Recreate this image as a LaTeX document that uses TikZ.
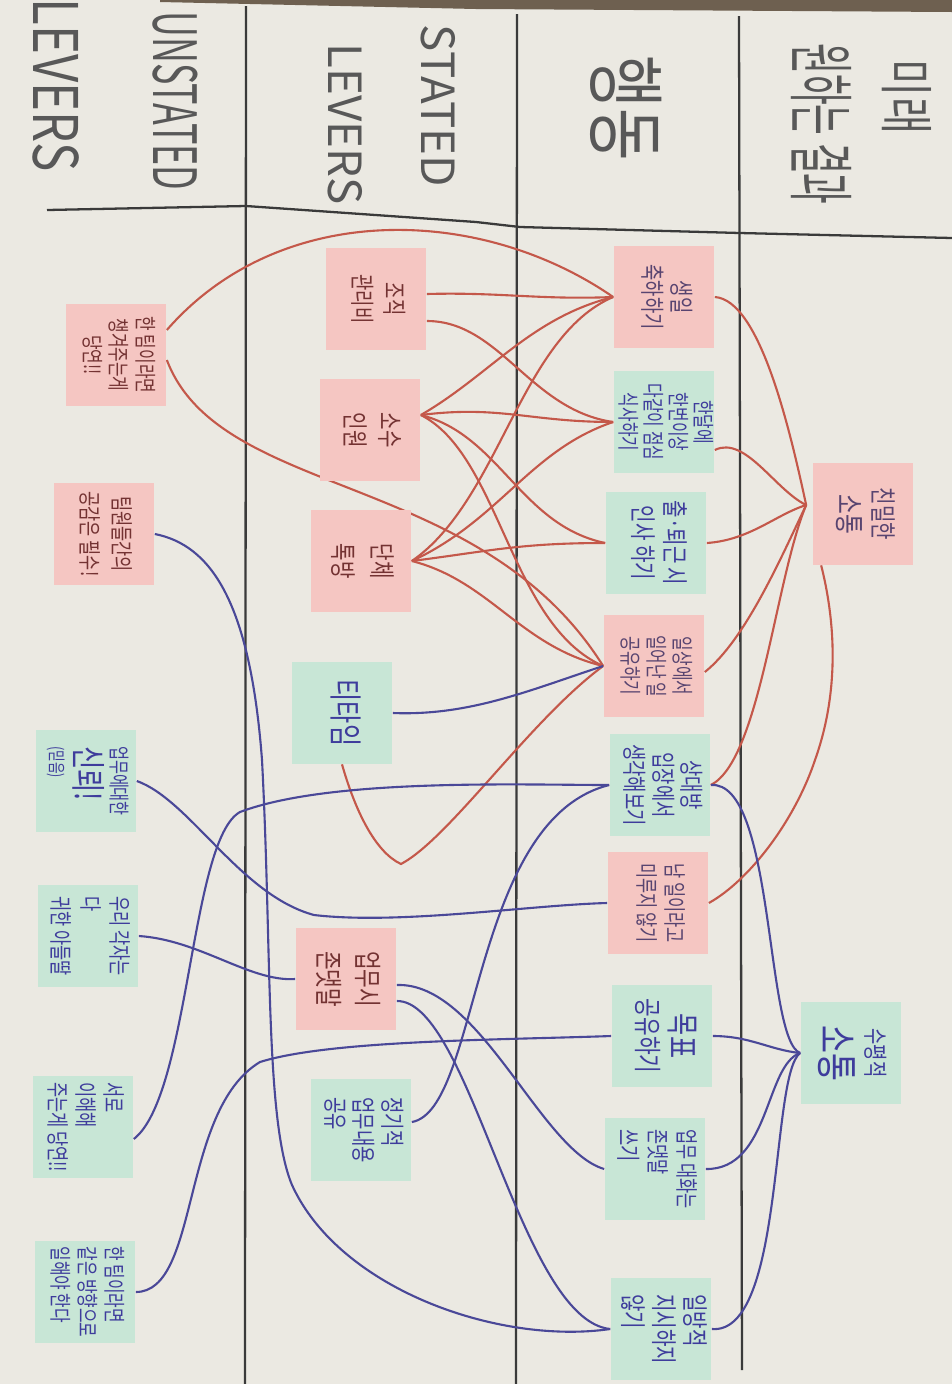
\documentclass[tikz,border=0pt]{standalone}
\usepackage{fontspec}
\usepackage{graphicx}
\setmainfont{Noto Sans CJK KR}
\usetikzlibrary{calc}
\definecolor{paper}{RGB}{235,233,226}
\definecolor{pinknote}{RGB}{245,198,194}
\definecolor{greennote}{RGB}{200,230,214}
\definecolor{redink}{RGB}{196,88,74}
\definecolor{blueink}{RGB}{74,72,152}
\definecolor{blackink}{RGB}{58,58,58}
\definecolor{hdrink}{RGB}{88,88,88}
\definecolor{txtblue}{RGB}{62,60,156}
\definecolor{txtred}{RGB}{115,50,50}
\definecolor{txtpurple}{RGB}{88,68,112}
\definecolor{floorcol}{RGB}{110,96,80}
\newcommand{\nt}[4][c]{\scalebox{0.72}[1]{\fontsize{#2}{#3}\selectfont\begin{tabular}{@{}#1@{}}#4\end{tabular}}}
\newcommand{\fs}[1]{\fontsize{#1}{#1}\selectfont}
\pgfdeclarelayer{bg}
\pgfdeclarelayer{lines}
\pgfsetlayers{bg,lines,main}
\begin{document}
\begin{tikzpicture}[x=0.02cm,y=-0.02cm,
  note/.style={minimum width=2.02cm,minimum height=2.04cm,inner sep=0pt,draw=none},
  pnote/.style={note,fill=pinknote},
  gnote/.style={note,fill=greennote},
  ntxt/.style={rotate=-90,inner sep=0pt},
  hdr/.style={rotate=-90,inner sep=0pt,text=hdrink},
  rl/.style={draw=redink,line width=1.2pt},
  bl/.style={draw=blueink,line width=1.2pt},
  frame/.style={draw=blackink,line width=1.3pt}]
\useasboundingbox (0,0) rectangle (952,1384);
\begin{pgfonlayer}{bg}
\fill[paper] (0,0) rectangle (952,1384);
\fill[floorcol] (160,0) -- (952,0) -- (952,12) -- (476,9) -- (160,2) -- cycle;
\draw[frame] (246,6) -- (245,1384);
\draw[frame] (517,14) -- (516,1384);
\draw[frame] (739,16) -- (742,1370);
\draw[frame] (47,210) -- (246,206) -- (476,222) -- (520,227) -- (740,233) -- (952,238);
\end{pgfonlayer}

% headers
\node[hdr] (hlev1) at (56,85) {\scalebox{0.8}[1]{\fs{35}LEVERS}};
\node[hdr] (hunst) at (175,101) {\scalebox{0.6}[1]{\fs{34}UNSTATED}};
\node[hdr] (hstat) at (438,106) {\scalebox{1.0}[1]{\fs{26}STATED}};
\node[hdr] (hlev2) at (345,124) {\scalebox{1.0}[1]{\fs{26}LEVERS}};
\node[hdr] (hbeh) at (626,108) {\scalebox{0.72}[1]{\fs{45}행동}};
\node[hdr] (hfut) at (907,97) {\scalebox{0.74}[1]{\fs{31}미래}};
\node[hdr] (hres) at (821,124) {\scalebox{0.5}[1]{\fs{38}원하는 결과}};

% behaviour column
\node[pnote] (b1) at (664,297) {};
\node[ntxt,text=txtpurple] (b1t) at (b1) {\nt{14}{16}{생일\\축하하기}};
\node[gnote] (b2) at (664,422) {};
\node[ntxt,text=txtblue] (b2t) at (b2) {\nt{12.5}{13}{한달에\\한번이상\\다같이 점심\\식사하기}};
\node[gnote] (b3) at (656,543) {};
\node[ntxt,text=txtblue] (b3t) at (b3) {\nt{15}{18}{출·퇴근 시\\인사 하기}};
\node[pnote] (b4) at (654,666) {};
\node[ntxt,text=txtpurple] (b4t) at (b4) {\nt{12.5}{14.5}{일상에서\\일어난 일\\공유하기}};
\node[gnote] (b5) at (660,785) {};
\node[ntxt,text=txtblue] (b5t) at (b5) {\nt{14}{16}{상대방\\입장에서\\생각해보기}};
\node[pnote] (b6) at (658,903) {};
\node[ntxt,text=txtpurple] (b6t) at (b6) {\nt{13}{16}{남 일이라고\\미루지 않기}};
\node[gnote] (b7) at (662,1036) {};
\node[ntxt,text=txtblue] (b7t) at (b7) {\nt{16}{19}{{\fs{19}목표}\\공유하기}};
\node[gnote] (b8) at (655,1169) {};
\node[ntxt,text=txtblue] (b8t) at (b8) {\nt[l]{13}{17}{업무 대화는\\존댓말\\{\fs{14}쓰기}}};
\node[gnote] (b9) at (661,1329) {};
\node[ntxt,text=txtblue] (b9t) at (b9) {\nt[l]{15}{17}{일방적\\지시하지\\않기}};

% results
\node[pnote] (r1) at (863,514) {};
\node[ntxt,text=txtpurple] (r1t) at (r1) {\nt{15}{20}{친밀한\\{\fs{17}소통}}};
\node[gnote] (r2) at (851,1053) {};
\node[ntxt,text=txtblue] (r2t) at (r2) {\nt{14}{20}{수평적\\{\fs{24}소통}}};

% stated levers
\node[pnote] (s1) at (376,299) {};
\node[ntxt,text=txtred] (s1t) at (s1) {\nt{14}{18}{조직\\관리비}};
\node[pnote] (s2) at (370,430) {};
\node[ntxt,text=txtred] (s2t) at (s2) {\nt{15}{20}{소수\\인원}};
\node[pnote] (s3) at (361,561) {};
\node[ntxt,text=txtred] (s3t) at (s3) {\nt{15}{22}{단체\\톡방}};
\node[gnote] (s4) at (342,713) {};
\node[ntxt,text=txtblue] (s4t) at (s4) {\nt{19}{21}{티타임}};
\node[pnote] (s5) at (346,979) {};
\node[ntxt,text=txtred] (s5t) at (s5) {\nt{16}{22}{업무시\\존댓말}};
\node[gnote] (s6) at (361,1130) {};
\node[ntxt,text=txtblue] (s6t) at (s6) {\nt[l]{14}{16}{정기적\\업무내용\\공유}};

% unstated levers
\node[pnote] (u1) at (116,355) {};
\node[ntxt,text=txtred] (u1t) at (u1) {\nt{12.5}{15}{한 팀이라면\\챙겨주는게\\당연!!}};
\node[pnote] (u2) at (104,534) {};
\node[ntxt,text=txtred] (u2t) at (u2) {\nt{13}{18}{팀원들간의\\공감은 필수!}};
\node[gnote] (u3) at (86,781) {};
\node[ntxt,text=txtblue] (u3t) at (u3) {\nt[l]{12}{14}{업무에대한\\{\fs{20}신뢰!}\\{\fs{10}(믿음)}}};
\node[gnote] (u4) at (88,936) {};
\node[ntxt,text=txtblue] (u4t) at (u4) {\nt[l]{13}{17}{우리 각자는\\다\\귀한 아들딸}};
\node[gnote] (u5) at (83,1127) {};
\node[ntxt,text=txtblue] (u5t) at (u5) {\nt[l]{13}{16}{서로\\이해해\\주는게 당연!!}};
\node[gnote] (u6) at (85,1292) {};
\node[ntxt,text=txtblue] (u6t) at (u6) {\nt[l]{12.5}{15.5}{한 팀이라면\\같은 방향으로\\일해야 한다}};

\begin{pgfonlayer}{lines}
% red connectors
\draw[rl] ($(u1.east)+(0,-25)$) .. controls (280,200) and (480,205) .. (b1.west);
\draw[rl] ($(u1.east)+(0,5)$) .. controls (220,500) and (480,470) .. (b4.west);
\draw[rl] ($(s1.east)+(0,-5)$) .. controls (500,292) and (540,300) .. (b1.west);
\draw[rl] ($(s1.east)+(0,22)$) .. controls (500,321) and (530,410) .. (b2.west);
\coordinate (s2r) at ($(s2.east)+(0,-15)$);
\draw[rl] (s2r) .. controls (490,375) and (530,318) .. (b1.west);
\draw[rl] (s2r) .. controls (500,405) and (530,422) .. (b2.west);
\draw[rl] (s2r) .. controls (500,435) and (520,525) .. (b3.west);
\draw[rl] (s2r) .. controls (500,455) and (510,625) .. (b4.west);
\draw[rl] (s3.east) .. controls (500,500) and (520,337) .. (b1.west);
\draw[rl] (s3.east) .. controls (500,520) and (530,450) .. (b2.west);
\draw[rl] (s3.east) .. controls (490,551) and (520,543) .. (b3.west);
\draw[rl] (s3.east) .. controls (490,581) and (520,646) .. (b4.west);
\draw[rl] (s4.south) .. controls (355,810) and (375,852) .. (401,864) .. controls (450,838) and (530,720) .. (b4.west);
\coordinate (r1l) at ($(r1.west)+(-6,-9)$);
\draw[rl] (b1.east) .. controls (760,300) and (790,430) .. (r1l);
\draw[rl] ($(b2.east)+(0,28)$) .. controls (745,435) and (775,490) .. (r1l);
\draw[rl] (b3.east) .. controls (750,540) and (775,515) .. (r1l);
\draw[rl] ($(b4.east)+(0,6)$) .. controls (745,640) and (780,560) .. (r1l);
\draw[rl] (b5.east) .. controls (760,760) and (775,580) .. (r1l);
\draw[rl] (b6.east) .. controls (750,880) and (795,820) .. (815,760) .. controls (840,690) and (835,620) .. ($(r1.south west)+(9,0)$);
% blue connectors
\draw[bl] (s4.east) .. controls (470,716) and (530,690) .. (b4.west);
\draw[bl] (u2.east) .. controls (210,545) and (250,600) .. (262,760) .. controls (272,950) and (265,1120) .. (292,1185) .. controls (340,1290) and (500,1345) .. (b9.west);
\draw[bl] (u3.east) .. controls (190,800) and (240,895) .. (314,915) .. controls (400,925) and (530,905) .. (b6.west);
\draw[bl] (b5.west) .. controls (520,785) and (330,778) .. (240,812) .. controls (190,840) and (190,1095) .. ($(u5.east)+(0,12)$);
\draw[bl] (u4.east) .. controls (200,940) and (250,982) .. (s5.west);
\draw[bl] (u6.east) .. controls (200,1292) and (180,1110) .. (260,1062) .. controls (330,1040) and (500,1040) .. (b7.west);
\draw[bl] ($(s5.east)+(0,6)$) .. controls (480,982) and (540,1150) .. (b8.west);
\draw[bl] ($(s5.east)+(0,22)$) .. controls (470,1000) and (520,1320) .. (b9.west);
\draw[bl] ($(s6.east)+(0,-8)$) .. controls (480,1110) and (470,820) .. (b5.west);
\draw[bl] (b5.east) .. controls (775,780) and (765,1040) .. (r2.west);
\draw[bl] (b7.east) .. controls (750,1036) and (770,1050) .. (r2.west);
\draw[bl] (b8.east) .. controls (770,1170) and (765,1065) .. (r2.west);
\draw[bl] (b9.east) .. controls (785,1335) and (770,1075) .. (r2.west);
\end{pgfonlayer}
\end{tikzpicture}
\end{document}
